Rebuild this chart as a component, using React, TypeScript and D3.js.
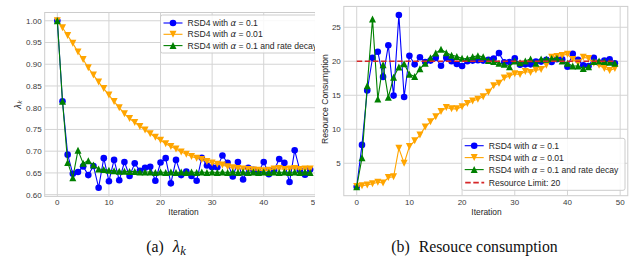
import React from "react";
import * as d3 from "d3";

const iterations = d3.range(50);

const lambdaA01 = [1.0, 0.815, 0.692, 0.648, 0.652, 0.665, 0.645, 0.666, 0.616, 0.684, 0.631, 0.68, 0.633, 0.675, 0.643, 0.672, 0.655, 0.662, 0.664, 0.632, 0.674, 0.684, 0.626, 0.68, 0.645, 0.653, 0.643, 0.632, 0.685, 0.667, 0.663, 0.663, 0.69, 0.673, 0.642, 0.675, 0.635, 0.662, 0.657, 0.652, 0.675, 0.647, 0.656, 0.682, 0.673, 0.629, 0.702, 0.656, 0.646, 0.658];
const lambdaA001 = [1.0, 0.984, 0.966, 0.948, 0.928, 0.911, 0.892, 0.875, 0.859, 0.844, 0.829, 0.814, 0.8, 0.786, 0.775, 0.766, 0.757, 0.749, 0.74, 0.732, 0.725, 0.717, 0.711, 0.705, 0.698, 0.693, 0.688, 0.684, 0.681, 0.676, 0.673, 0.67, 0.668, 0.664, 0.662, 0.66, 0.659, 0.658, 0.657, 0.656, 0.655, 0.656, 0.659, 0.66, 0.658, 0.659, 0.66, 0.658, 0.659, 0.659];
const lambdaDecay = [1.0, 0.815, 0.674, 0.639, 0.702, 0.672, 0.678, 0.668, 0.659, 0.658, 0.656, 0.655, 0.654, 0.654, 0.653, 0.653, 0.652, 0.652, 0.652, 0.651, 0.652, 0.651, 0.652, 0.651, 0.652, 0.651, 0.652, 0.651, 0.652, 0.651, 0.652, 0.651, 0.652, 0.651, 0.652, 0.651, 0.652, 0.651, 0.652, 0.651, 0.652, 0.651, 0.652, 0.651, 0.652, 0.651, 0.652, 0.651, 0.652, 0.651];

const resA01 = [1.55, 7.7, 15.7, 20.5, 21.4, 17.7, 22.35, 14.95, 26.8, 14.75, 20.8, 19.55, 20.6, 19.9, 20.1, 20.5, 19.35, 20.5, 20.0, 19.6, 19.3, 20.0, 20.1, 20.15, 20.1, 20.2, 20.4, 21.2, 19.85, 19.9, 20.45, 19.5, 19.55, 19.55, 19.95, 19.95, 20.2, 19.9, 20.3, 20.3, 19.2, 21.1, 20.2, 19.4, 19.3, 20.5, 19.8, 20.1, 20.3, 19.7];
const resA001 = [1.6, 1.7, 1.8, 2.0, 2.2, 2.1, 2.9, 3.0, 7.2, 5.0, 7.45, 8.3, 9.15, 10.35, 11.1, 11.85, 12.6, 13.2, 13.0, 13.0, 13.3, 13.8, 14.15, 14.4, 14.8, 15.45, 16.4, 16.75, 17.55, 17.85, 18.15, 18.05, 18.5, 18.35, 18.7, 18.8, 19.4, 20.6, 20.7, 20.85, 21.05, 20.25, 19.75, 20.6, 20.4, 19.7, 19.4, 18.95, 18.65, 18.95];
const resDecay = [1.55, 5.8, 16.4, 26.2, 14.45, 19.5, 14.7, 17.65, 19.15, 19.65, 18.1, 17.75, 18.9, 19.7, 20.5, 21.2, 21.75, 21.25, 20.9, 20.7, 20.45, 20.4, 20.65, 20.8, 20.65, 20.1, 19.95, 19.7, 19.55, 19.2, 20.05, 19.8, 20.05, 20.35, 19.7, 20.35, 20.3, 20.4, 20.45, 20.05, 19.7, 19.3, 19.3, 18.95, 19.2, 19.95, 20.05, 19.95, 19.85, 19.7];
const resourceLimit = 20;

const xTicks = [0, 10, 20, 30, 40, 50];
const lambdaTicks = [0.6, 0.65, 0.7, 0.75, 0.8, 0.85, 0.9, 0.95, 1.0];
const resTicks = [5, 10, 15, 20, 25];

const seriesNames = ["0.1", "0.01", "0.1"];
const colors = { blue: "#0000ff", orange: "#ffa500", green: "#008000", red: "#d62728" };
const SANS = "'Liberation Sans', Arial, sans-serif";
const SERIF = "'Liberation Serif', 'DejaVu Serif', serif";
const GRID = "#d4d4d4";
const TICKC = "#3a3a3a";

type MarkerKind = "o" | "v" | "^";

function Marker({ kind, x, y, color }: { kind: MarkerKind; x: number; y: number; color: string }) {
  const s = 3.5;
  if (kind === "o") return <circle cx={x} cy={y} r={3.3} fill={color} />;
  if (kind === "v")
    return <path d={`M${x - s},${y - s}L${x + s},${y - s}L${x},${y + s}Z`} fill={color} />;
  return <path d={`M${x - s},${y + s}L${x + s},${y + s}L${x},${y - s}Z`} fill={color} />;
}

function Series({ data, xs, ys, color, kind }: any) {
  const line = d3.line<number>().x((_, i) => xs(iterations[i])).y((d) => ys(d));
  return (
    <g>
      <path d={line(data) || ""} fill="none" stroke={color} strokeWidth={1.1} />
      {data.map((d: number, i: number) => (
        <Marker key={i} kind={kind} x={xs(iterations[i])} y={ys(d)} color={color} />
      ))}
    </g>
  );
}

function LegendLabel({ alpha, suffix }: { alpha?: string; suffix?: string }) {
  return (
    <>
      <tspan>RSD4 with </tspan>
      <tspan fontStyle="italic" fontFamily="'DejaVu Sans', sans-serif">α</tspan>
      <tspan> = {alpha}</tspan>
      {suffix ? <tspan>{suffix}</tspan> : null}
    </>
  );
}

function Legend({ x, y, w, h, rows }: any) {
  return (
    <g>
      <rect x={x} y={y} width={w} height={h} rx={2} fill="white" fillOpacity={0.85} stroke="#cccccc" strokeWidth={1} />
      {rows.map((r: any, i: number) => (
        <g key={i}>
          {r.dashed ? (
            <line x1={x + 3.5} x2={x + 22.5} y1={r.y} y2={r.y} stroke={r.color} strokeWidth={1.6} strokeDasharray="5.5,2.6" />
          ) : (
            <>
              <line x1={x + 3} x2={x + 22} y1={r.y} y2={r.y} stroke={r.color} strokeWidth={1.1} />
              <Marker kind={r.kind} x={x + 12.5} y={r.y} color={r.color} />
            </>
          )}
          <text x={x + 27} y={r.y + 3} fontFamily={SANS} fontSize={8.6} fill="#262626">
            {r.label}
          </text>
        </g>
      ))}
    </g>
  );
}

function Axes({ xs, ys, yTicks, fmt, x0, x1, y0, y1 }: any) {
  return (
    <g>
      <rect x={x0} y={y0} width={x1 - x0} height={y1 - y0} fill="white" stroke="#cccccc" strokeWidth={1} />
      {xTicks.map((t) => (
        <line key={"gx" + t} x1={xs(t)} x2={xs(t)} y1={y0} y2={y1} stroke={GRID} strokeWidth={1} />
      ))}
      {yTicks.map((t: number) => (
        <line key={"gy" + t} x1={x0} x2={x1} y1={ys(t)} y2={ys(t)} stroke={GRID} strokeWidth={1} />
      ))}
      {xTicks.map((t) => (
        <text key={"tx" + t} x={xs(t)} y={y1 + 9} textAnchor="middle" fontFamily={SANS} fontSize={8} fill={TICKC}>
          {t}
        </text>
      ))}
      {yTicks.map((t: number) => (
        <text key={"ty" + t} x={x0 - 3} y={ys(t) + 2.9} textAnchor="end" fontFamily={SANS} fontSize={8} fill={TICKC}>
          {fmt(t)}
        </text>
      ))}
    </g>
  );
}

export default function App() {
  // left panel
  const lx = d3.scaleLinear().domain([-2.45, 51.45]).range([44.7, 322.8]);
  const ly = d3.scaleLinear().domain([0.596, 1.019]).range([196.4, 12.5]);
  // right panel
  const rx = d3.scaleLinear().domain([-2.45, 51.45]).range([343.8, 627.8]);
  const ry = d3.scaleLinear().domain([0.23, 28.07]).range([195.7, 6.4]);
  const limitLine = d3.line<number>().x((d) => rx(d)).y(() => ry(resourceLimit));

  return (
    <svg width={633} height={260} style={{ position: "fixed", left: 0, top: 0, background: "white" }}>
      <defs>
        <clipPath id="leftClip">
          <rect x={0} y={0} width={315} height={260} />
        </clipPath>
        <clipPath id="rightClip">
          <rect x={316} y={0} width={317} height={260} />
        </clipPath>
      </defs>
      <rect x={0} y={0} width={633} height={260} fill="white" />

      <g clipPath="url(#leftClip)">
        <Axes xs={lx} ys={ly} yTicks={lambdaTicks} fmt={(t: number) => t.toFixed(2)} x0={44.7} x1={322.8} y0={12.5} y1={196.4} />
        <Series data={lambdaA01} xs={lx} ys={ly} color={colors.blue} kind="o" />
        <Series data={lambdaA001} xs={lx} ys={ly} color={colors.orange} kind="v" />
        <Series data={lambdaDecay} xs={lx} ys={ly} color={colors.green} kind="^" />
        <text x={183.5} y={215} textAnchor="middle" fontFamily={SANS} fontSize={8.4} fill="#262626">Iteration</text>
        <text transform="translate(20.5,104.5) rotate(-90)" textAnchor="middle" fontFamily="'DejaVu Sans', sans-serif" fontSize={8.4} fill="#262626">
          <tspan fontStyle="italic">λ</tspan>
          <tspan fontStyle="italic" fontSize={6} dy={1.8}>k</tspan>
        </text>
        <Legend
          x={160.5}
          y={15}
          w={165}
          h={38}
          rows={[
            { y: 23, color: colors.blue, kind: "o", label: <LegendLabel alpha={seriesNames[0]} /> },
            { y: 34.3, color: colors.orange, kind: "v", label: <LegendLabel alpha={seriesNames[1]} /> },
            { y: 45.6, color: colors.green, kind: "^", label: <LegendLabel alpha={seriesNames[2]} suffix=" and rate decay" /> },
          ]}
        />
      </g>

      <g clipPath="url(#rightClip)">
        <Axes xs={rx} ys={ry} yTicks={resTicks} fmt={(t: number) => String(t)} x0={343.8} x1={627.8} y0={6.4} y1={195.7} />
        <Series data={resA01} xs={rx} ys={ry} color={colors.blue} kind="o" />
        <Series data={resA001} xs={rx} ys={ry} color={colors.orange} kind="v" />
        <Series data={resDecay} xs={rx} ys={ry} color={colors.green} kind="^" />
        <path d={limitLine([0, 49]) || ""} stroke={colors.red} strokeWidth={1.6} strokeDasharray="5.5,2.6" fill="none" />
        <text x={486.5} y={215} textAnchor="middle" fontFamily={SANS} fontSize={8.4} fill="#262626">Iteration</text>
        <text transform="translate(328,99) rotate(-90)" textAnchor="middle" fontFamily={SANS} fontSize={8.6} fill="#262626">Resource Consumption</text>
        <Legend
          x={461.7}
          y={138.3}
          w={163.3}
          h={52}
          rows={[
            { y: 145.7, color: colors.blue, kind: "o", label: <LegendLabel alpha={seriesNames[0]} /> },
            { y: 157.6, color: colors.orange, kind: "v", label: <LegendLabel alpha={seriesNames[1]} /> },
            { y: 169.6, color: colors.green, kind: "^", label: <LegendLabel alpha={seriesNames[2]} suffix=" and rate decay" /> },
            { y: 182.6, color: colors.red, dashed: true, label: <tspan>Resource Limit: 20</tspan> },
          ]}
        />
      </g>

      <text x={166} y={252} textAnchor="middle" fontFamily={SERIF} fontSize={15.8} fill="#111">
        <tspan>(a)</tspan>
        <tspan dx={9} fontStyle="italic" fontSize={17}>λ</tspan>
        <tspan fontStyle="italic" fontSize={12.5} dy={3}>k</tspan>
      </text>
      <text x={474.5} y={252} textAnchor="middle" fontFamily={SERIF} fontSize={15.8} fill="#111">
        <tspan>(b)</tspan>
        <tspan dx={9}>Resouce consumption</tspan>
      </text>
    </svg>
  );
}
